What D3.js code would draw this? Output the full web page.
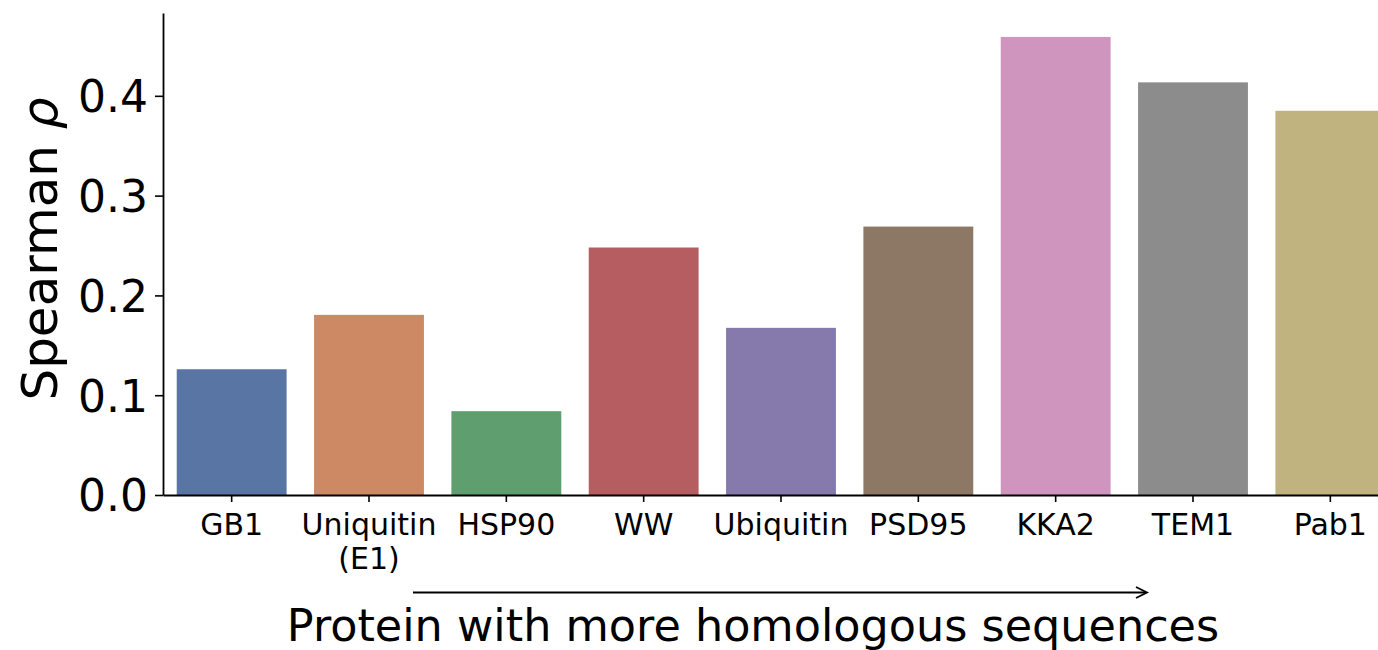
<!DOCTYPE html>
<html>
<head>
<meta charset="utf-8">
<script src="https://cdn.jsdelivr.net/npm/d3@7"></script>
<style>
  html, body { margin: 0; padding: 0; background: #ffffff; }
  svg { display: block; }
  text { font-family: "DejaVu Sans", sans-serif; fill: #000; }
</style>
</head>
<body>
<svg id="chart" width="1378" height="650"></svg>
<script>
// Proteins ordered by the number of homologous sequences available
const proteins = ["GB1", "Uniquitin\n(E1)", "HSP90", "WW", "Ubiquitin", "PSD95", "KKA2", "TEM1", "Pab1"];
// Spearman correlation for each protein
const spearman = [0.126, 0.1805, 0.084, 0.248, 0.1675, 0.269, 0.459, 0.4135, 0.385];
// Bar fills (seaborn "deep", desaturated)
const barColors = ["#5975a4", "#cc8963", "#5f9e6e", "#b55d60", "#857aab", "#8d7866", "#d095bf", "#8c8c8c", "#c1b37f"];
// Y axis ticks
const yTicks = [0.0, 0.1, 0.2, 0.3, 0.4];
const yMax = 0.483;

const svg = d3.select("#chart");
const plot = { left: 163, right: 1399, top: 13, bottom: 495 };

const x = d3.scaleBand()
  .domain(proteins)
  .range([plot.left, plot.right])
  .paddingInner(0.2)
  .paddingOuter(0.1);

const y = d3.scaleLinear()
  .domain([0, yMax])
  .range([plot.bottom, plot.top]);

// Bars
svg.append("g")
  .selectAll("rect")
  .data(proteins)
  .join("rect")
  .attr("x", d => x(d))
  .attr("width", x.bandwidth())
  .attr("y", (d, i) => y(spearman[i]))
  .attr("height", (d, i) => y(0) - y(spearman[i]))
  .attr("fill", (d, i) => barColors[i]);

// Y axis
const yAxis = svg.append("g")
  .attr("transform", `translate(${plot.left},0)`)
  .call(d3.axisLeft(y)
    .tickValues(yTicks)
    .tickFormat(d3.format(".1f"))
    .tickSize(8)
    .tickSizeOuter(0)
    .tickPadding(7));
yAxis.select(".domain").attr("stroke", "#000").attr("stroke-width", 1.8);
yAxis.selectAll(".tick line").attr("stroke", "#000").attr("stroke-width", 1.6);
yAxis.selectAll(".tick text")
  .style("font-family", "'DejaVu Sans', sans-serif")
  .style("font-size", "44px")
  .attr("fill", "#000")
  .attr("dy", "0.36em");

// X axis
const xAxis = svg.append("g")
  .attr("transform", `translate(0,${plot.bottom})`)
  .call(d3.axisBottom(x).tickSize(7).tickSizeOuter(0).tickFormat(""));
xAxis.select(".domain").attr("stroke", "#000").attr("stroke-width", 1.8);
xAxis.selectAll(".tick line").attr("stroke", "#000").attr("stroke-width", 1.6);

// Category labels (multi-line where needed)
const labels = svg.append("g")
  .selectAll("text")
  .data(proteins)
  .join("text")
  .attr("x", d => x(d) + x.bandwidth() / 2)
  .attr("y", plot.bottom + 40)
  .attr("text-anchor", "middle")
  .style("font-size", "30px");
labels.each(function(d) {
  const lines = d.split("\n");
  const t = d3.select(this);
  lines.forEach((ln, k) => {
    t.append("tspan")
      .attr("x", x(d) + x.bandwidth() / 2)
      .attr("dy", k === 0 ? 0 : 34)
      .text(ln);
  });
});

// Y axis title
const yTitle = svg.append("text")
  .attr("transform", "translate(57,249) rotate(-90)")
  .attr("text-anchor", "middle")
  .style("font-size", "50px");
yTitle.append("tspan").text("Spearman ");
yTitle.append("tspan").style("font-style", "italic").text("ρ");

// Direction arrow under the categories
const arrowY = 592.5;
const arrowStart = 413, arrowEnd = 1147;
svg.append("line")
  .attr("x1", arrowStart).attr("x2", arrowEnd - 1)
  .attr("y1", arrowY).attr("y2", arrowY)
  .attr("stroke", "#000").attr("stroke-width", 1.8);
svg.append("path")
  .attr("d", `M${arrowEnd - 11},${arrowY - 5.5} L${arrowEnd},${arrowY} L${arrowEnd - 11},${arrowY + 5.5}`)
  .attr("fill", "none").attr("stroke", "#000").attr("stroke-width", 1.8);

// X axis title
svg.append("text")
  .attr("x", 753)
  .attr("y", 641)
  .attr("text-anchor", "middle")
  .style("font-size", "44.5px")
  .text("Protein with more homologous sequences");
</script>
</body>
</html>
